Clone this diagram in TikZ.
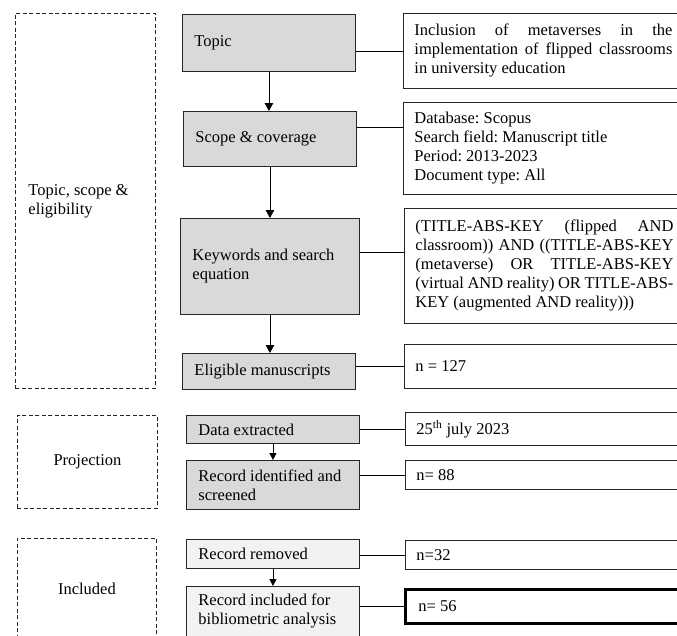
\documentclass[tikz,border=0pt]{standalone}
\usepackage{fontspec}
\setmainfont{Liberation Serif}
\usetikzlibrary{arrows.meta}
\definecolor{boxgray}{HTML}{D9D9D9}
\definecolor{boxlight}{HTML}{F2F2F2}
\definecolor{edge}{HTML}{262626}
\newcommand\jline[1]{\makebox[258pt][s]{\spaceskip=0pt\relax\xspaceskip=0pt\relax #1}}
\tikzset{
  every node/.style={font=\fontsize{16.5}{19}\selectfont\frenchspacing,
    execute at begin node={\spaceskip=0pt\relax\xspaceskip=0pt\relax}},
  gbox/.style={draw=edge, line width=0.9pt, fill=boxgray, anchor=north west,
    inner xsep=12pt, inner ysep=0pt, align=left, text width=149pt},
  lbox/.style={gbox, fill=boxlight},
  rbox/.style={draw=edge, line width=0.9pt, fill=white, anchor=north west,
    inner xsep=11pt, inner ysep=0pt, text width=258pt, align=left},
  dbox/.style={draw=edge, line width=0.9pt, dash pattern=on 4pt off 2.5pt,
    anchor=north west, inner ysep=0pt},
  conn/.style={draw=black, line width=0.9pt},
  arrbig/.style={draw=black, line width=0.9pt, -{Triangle[length=8pt,width=8.5pt]}},
  arrsmall/.style={draw=black, line width=0.9pt, -{Triangle[length=7pt,width=7pt]}}
}
\begin{document}
\begin{tikzpicture}[x=1pt,y=-1pt]
\useasboundingbox (0,0) rectangle (677,635);
\clip (0,0) rectangle (677,635);
\fill[white] (0,0) rectangle (677,635);

% left dashed group boxes
\node[dbox, minimum width=140pt, minimum height=375pt, inner xsep=13pt,
  text width=114pt, align=left] (d1) at (15,13) {Topic, scope \&\\eligibility};
\node[dbox, minimum width=140pt, minimum height=93pt, align=center] (d2) at (17,415) {Projection};
\node[dbox, minimum width=139pt, minimum height=100pt, align=center] (d3) at (17,538) {Included};

% central boxes
\node[gbox, minimum height=57pt] (topic) at (182,14) {Topic};
\node[gbox, minimum height=55pt] (scope) at (183,111) {Scope \& coverage};
\node[gbox, text width=155pt, minimum height=96pt] (kw) at (180,218) {Keywords and search\\equation};
\node[gbox, minimum height=36pt] (elig) at (182,353) {Eligible manuscripts};
\node[gbox, minimum height=28pt] (data) at (186,415) {Data extracted};
\node[gbox, minimum height=49pt] (recid) at (186,460) {Record identified and\\screened};
\node[lbox, minimum height=29pt] (recrem) at (186,539) {Record removed};
\node[lbox, minimum height=50pt] (recinc) at (186,586) {Record included for\\bibliometric analysis};

% right boxes
\node[rbox, minimum height=75pt] (r1) at (403,13)
  {\jline{Inclusion of metaverses in the}\\\jline{implementation of flipped classrooms}\\in university education};
\node[rbox, minimum height=92pt] (r2) at (403,102)
  {Database: Scopus\\Search field: Manuscript title\\Period: 2013-2023\\Document type: All};
\node[rbox, minimum height=115pt] (r3) at (404,208)
  {\jline{(TITLE-ABS-KEY (flipped AND}\\\jline{classroom)) AND ((TITLE-ABS-KEY}\\\jline{(metaverse) OR TITLE-ABS-KEY}\\\jline{(virtual AND reality) OR TITLE-ABS-}\\KEY (augmented AND reality)))};
\node[rbox, minimum height=44pt] (r4) at (404,344) {n = 127};
\node[rbox, minimum height=33pt] (r5) at (405,412) {25\textsuperscript{th} july 2023};
\node[rbox, minimum height=29pt] (r6) at (405,460) {n= 88};
\node[rbox, minimum height=29pt] (r7) at (405,540) {n=32};
\node[rbox, minimum height=34pt, line width=2.8pt, draw=black, inner xsep=13pt] (r8) at (404,588) {n= 56};

% vertical arrows
\draw[arrbig] (topic.south) -- (topic.south |- scope.north);
\draw[arrbig] (scope.south) -- (scope.south |- kw.north);
\draw[arrbig] (kw.south) -- (kw.south |- elig.north);
\draw[arrsmall] (data.south) -- (recid.north);
\draw[arrsmall] (recrem.south) -- (recinc.north);

% horizontal connectors
\draw[conn] (topic.east |- r1.west) -- (r1.west);
\draw[conn] ([yshift=21.5pt]r2.west -| scope.east) -- ([yshift=21.5pt]r2.west);
\draw[conn] ([yshift=13.5pt]r3.west -| kw.east) -- ([yshift=13.5pt]r3.west);
\draw[conn] (elig.east |- r4.west) -- (r4.west);
\draw[conn] (data.east |- r5.west) -- (r5.west);
\draw[conn] (recid.east |- r6.west) -- (r6.west);
\draw[conn] (recrem.east |- r7.west) -- (r7.west);
\draw[conn] (recinc.east |- r8.west) -- (r8.west);
\end{tikzpicture}
\end{document}
